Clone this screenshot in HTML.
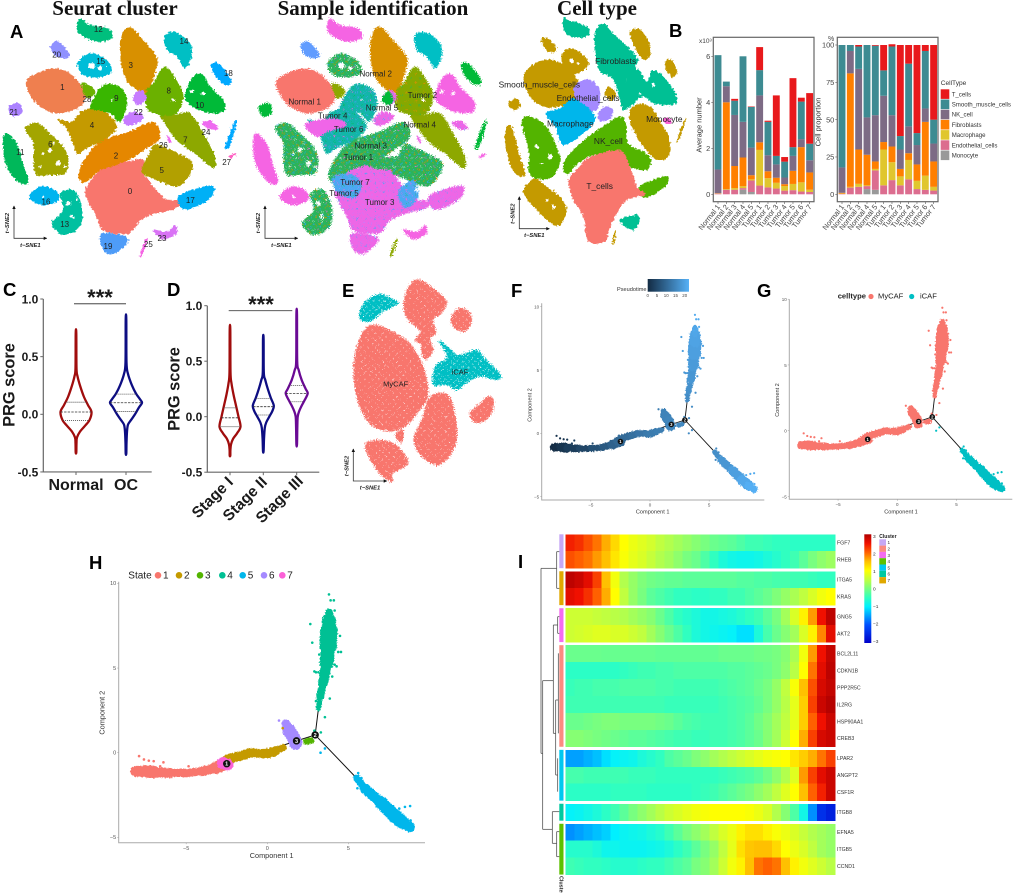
<!DOCTYPE html>
<html lang="en">
<head>
<meta charset="utf-8">
<title>Single-cell CAF analysis figure</title>
<style>
html,body{margin:0;padding:0;background:#fff}
svg{display:block;font-family:"Liberation Sans",sans-serif}
.title{font-family:"Liberation Serif",serif;font-weight:bold;font-size:21px;text-anchor:middle;fill:#111}
.letter{font-weight:bold;font-size:18.5px;fill:#000}
.bold{font-weight:bold;fill:#1a1a1a}
.axt{font-size:7.5px;fill:#333;text-anchor:middle}
.sne{font-size:5.8px;font-style:italic;font-weight:bold;fill:#222;text-anchor:middle}
</style>
</head>
<body>
<svg id="fig" width="1020" height="893" viewBox="0 0 1020 893" xmlns="http://www.w3.org/2000/svg">
<defs>
<filter id="rough" filterUnits="userSpaceOnUse" x="0" y="0" width="1020" height="893" color-interpolation-filters="sRGB">
<feTurbulence type="fractalNoise" baseFrequency="0.45" numOctaves="2" seed="4" result="n"/>
<feDisplacementMap in="SourceGraphic" in2="n" scale="4.5" xChannelSelector="R" yChannelSelector="G"/>
</filter>
<filter id="speckle" filterUnits="userSpaceOnUse" x="0" y="0" width="1020" height="893" color-interpolation-filters="sRGB">
<feTurbulence type="fractalNoise" baseFrequency="0.85" numOctaves="1" seed="11" result="n"/>
<feDisplacementMap in="SourceGraphic" in2="n" scale="7" xChannelSelector="R" yChannelSelector="G"/>
</filter>
<filter id="roughFine" filterUnits="userSpaceOnUse" x="0" y="0" width="1020" height="893" color-interpolation-filters="sRGB">
<feTurbulence type="fractalNoise" baseFrequency="0.6" numOctaves="2" seed="9" result="n"/>
<feDisplacementMap in="SourceGraphic" in2="n" scale="3" xChannelSelector="G" yChannelSelector="R"/>
</filter>
<pattern id="mixPink" patternUnits="userSpaceOnUse" width="9" height="9"><rect width="9" height="9" fill="#ee66e6"/><circle cx="1.5" cy="1.5" r=".7" fill="#9a8cff"/><circle cx="6" cy="3" r=".7" fill="#3fa8f8"/><circle cx="3" cy="6.5" r=".6" fill="#c77cff"/><circle cx="8" cy="7.5" r=".6" fill="#9a8cff"/></pattern>
<pattern id="mixGreen" patternUnits="userSpaceOnUse" width="9" height="9"><rect width="9" height="9" fill="#2ab45a"/><circle cx="1" cy="1" r=".8" fill="#d89000"/><circle cx="5" cy="1.8" r=".8" fill="#2aa7f0"/><circle cx="2.5" cy="4.5" r=".7" fill="#f564e3"/><circle cx="7.2" cy="5" r=".6" fill="#fff"/><circle cx="4.5" cy="7.5" r=".8" fill="#d89000"/><circle cx="8" cy="8" r=".7" fill="#2aa7f0"/></pattern>
<pattern id="mixTeal" patternUnits="userSpaceOnUse" width="9" height="9"><rect width="9" height="9" fill="#12b6a8"/><circle cx="1.2" cy="1.5" r=".7" fill="#f564e3"/><circle cx="5.2" cy="3" r=".8" fill="#4e9cff"/><circle cx="2" cy="6" r=".6" fill="#00ba38"/><circle cx="7" cy="7" r=".7" fill="#4e9cff"/></pattern>
<pattern id="mixBlue" patternUnits="userSpaceOnUse" width="9" height="9"><rect width="9" height="9" fill="#4aa9f2"/><circle cx="1.5" cy="1.5" r=".9" fill="#f564e3"/><circle cx="5.4" cy="4" r=".8" fill="#f564e3"/><circle cx="1.6" cy="6" r=".6" fill="#20b95a"/><circle cx="7.5" cy="7.5" r=".7" fill="#a58aff"/></pattern>
<pattern id="mixOlive" patternUnits="userSpaceOnUse" width="9" height="9"><rect width="9" height="9" fill="#86a800"/><circle cx="1.5" cy="2" r=".8" fill="#d89000"/><circle cx="6" cy="6" r=".8" fill="#2cb84a"/></pattern>
<pattern id="dotsCoral" patternUnits="userSpaceOnUse" width="7" height="7"><rect width="7" height="7" fill="#f8766d"/><circle cx="1" cy="1.2" r=".5" fill="#fff"/><circle cx="4.6" cy="4.5" r=".5" fill="#fff"/></pattern>
<pattern id="dotsTeal" patternUnits="userSpaceOnUse" width="6" height="6"><rect width="6" height="6" fill="#00bfc4"/><circle cx="1" cy="1.2" r=".6" fill="#fff"/><circle cx="4" cy="4" r=".6" fill="#fff"/></pattern>
<linearGradient id="ptGrad" x1="0" x2="1" y1="0" y2="0"><stop offset="0" stop-color="#132b43"/><stop offset="1" stop-color="#56b1f7"/></linearGradient>
<linearGradient id="heatGrad" x1="0" x2="0" y1="0" y2="1">
<stop offset="0" stop-color="#b00000"/><stop offset=".083" stop-color="#f01000"/><stop offset=".167" stop-color="#ff6000"/><stop offset=".25" stop-color="#ffc000"/><stop offset=".333" stop-color="#ffff00"/><stop offset=".417" stop-color="#c0ff40"/><stop offset=".5" stop-color="#78ff80"/><stop offset=".583" stop-color="#30ffc0"/><stop offset=".667" stop-color="#00f0ff"/><stop offset=".75" stop-color="#00a0ff"/><stop offset=".833" stop-color="#0050ff"/><stop offset="1" stop-color="#0000c8"/></linearGradient>
</defs>

<text class="title" x="115" y="15">Seurat cluster</text>
<text class="title" x="373" y="15">Sample identification</text>
<text class="title" x="597" y="15">Cell type</text>

<text class="letter" x="10" y="38">A</text>
<text class="letter" x="669" y="37">B</text>
<text class="letter" x="3" y="296">C</text>
<text class="letter" x="167" y="296">D</text>
<text class="letter" x="342" y="297">E</text>
<text class="letter" x="511" y="297">F</text>
<text class="letter" x="757" y="297">G</text>
<text class="letter" x="89" y="569">H</text>
<text class="letter" x="518" y="568">I</text>

<g id="panelA"></g>
<g id="panelS"></g>
<g id="panelT"></g>
<g id="panelB"></g>
<g id="panelC"></g>
<g id="panelD"></g>
<g id="panelE"></g>
<g id="panelF"></g>
<g id="panelG"></g>
<g id="panelH"></g>
<g id="panelI"></g>

<text class="bold" transform="translate(14.5,385) rotate(-90)" font-size="16.4" text-anchor="middle">PRG score</text>
<text class="bold" transform="translate(179.5,389) rotate(-90)" font-size="16.4" text-anchor="middle">PRG score</text>
<text class="bold" x="76" y="490" font-size="16" text-anchor="middle">Normal</text>
<text class="bold" x="126" y="490" font-size="16" text-anchor="middle">OC</text>
<text class="bold" transform="translate(234,483) rotate(-45)" font-size="15.5" text-anchor="end">Stage I</text>
<text class="bold" transform="translate(268,483) rotate(-45)" font-size="15.5" text-anchor="end">Stage II</text>
<text class="bold" transform="translate(304,482) rotate(-45)" font-size="15.5" text-anchor="end">Stage III</text>
<text class="bold" x="100" y="305" font-size="22" text-anchor="middle">***</text>
<text class="bold" x="261" y="312" font-size="22" text-anchor="middle">***</text>

<text class="axt" transform="translate(701.5,125) rotate(-90)">Average number</text>
<text class="axt" transform="translate(820.5,122) rotate(-90)">Cell proportion</text>
<text x="699" y="43" font-size="6.5" fill="#444">x10³</text>
<text x="828" y="41" font-size="7" fill="#444">%</text>
<text x="940.7" y="85" font-size="6.6" fill="#333">CellType</text>

<text x="617" y="291" font-size="5.6" fill="#333">Pseudotime</text>
<rect x="647.7" y="279" width="41.3" height="12.7" fill="url(#ptGrad)"/>
<text x="837.7" y="298.5" font-size="7.6" fill="#222" font-weight="bold">celltype</text>
<circle cx="871" cy="296.5" r="2.6" fill="#f8766d"/>
<text x="878" y="298.5" font-size="7.6" fill="#222">MyCAF</text>
<circle cx="911.7" cy="296.5" r="2.6" fill="#00bfc4"/>
<text x="920" y="298.5" font-size="7.6" fill="#222">iCAF</text>
<text x="128.3" y="578.5" font-size="10" fill="#222">State</text>

<script>
/* ---------- t-SNE cluster outlines, in t-SNE plot units ---------- */
const seuratColors = {0:'#f8766d',1:'#ef7f4f',2:'#e58700',3:'#d89000',4:'#c49a00',5:'#b2a000',6:'#a3a500',7:'#8da800',8:'#6bb100',9:'#39b600',10:'#00ba38',11:'#00b85a',12:'#00bf7d',13:'#00c0a0',14:'#00bfc4',15:'#00bdd8',16:'#00b4ef',17:'#00b0f6',18:'#00a9ff',19:'#4e9cf8',20:'#8f91ff',21:'#ab82ff',22:'#c77cff',23:'#d973f5',24:'#ee6bf0',25:'#f564e3',27:'#ff61c3',28:'#6bb100'};
const clusterShapes = [
[1,[[78,245],[110,220],[165,205],[215,225],[255,275],[245,315],[205,335],[165,340],[120,320],[90,285]]],
[0,[[255,570],[290,520],[330,492],[380,485],[430,478],[432,520],[470,570],[500,598],[550,605],[520,628],[470,640],[420,662],[400,690],[375,702],[310,692],[290,650],[265,605]]],
[2,[[235,530],[250,485],[300,425],[380,398],[460,366],[480,412],[440,445],[390,478],[340,498],[300,512],[255,548]]],
[3,[[368,100],[390,80],[420,110],[470,170],[465,220],[440,278],[400,262],[370,220],[360,150]]],
[4,[[172,358],[215,365],[245,335],[300,325],[350,375],[320,415],[260,445],[230,460],[215,420],[200,385]]],
[5,[[425,515],[445,465],[465,432],[500,445],[530,458],[578,490],[562,535],[530,560],[470,540]]],
[6,[[75,385],[110,368],[150,400],[190,440],[205,480],[195,520],[150,525],[110,525],[100,480],[100,430]]],
[7,[[480,345],[520,345],[570,340],[610,400],[645,470],[640,505],[590,465],[530,420]]],
[8,[[440,270],[460,250],[495,200],[535,250],[550,290],[530,340],[480,345],[440,325]]],
[9,[[270,320],[310,255],[365,265],[382,310],[360,365],[330,340],[290,330]]],
[10,[[555,295],[580,230],[610,225],[630,260],[670,300],[670,335],[610,335]]],
[11,[[15,400],[50,430],[65,480],[85,545],[60,550],[25,510],[10,460]]],
[12,[[230,85],[240,55],[270,75],[325,85],[335,115],[290,125],[250,110]]],
[13,[[155,670],[190,630],[180,580],[220,570],[245,620],[240,680],[190,705]]],
[14,[[495,105],[530,98],[570,130],[575,170],[555,205],[530,170],[500,150]]],
[15,[[232,190],[270,160],[320,180],[335,215],[300,232],[250,225]]],
[16,[[88,590],[120,560],[165,570],[175,600],[140,615],[110,610]]],
[17,[[535,590],[590,565],[640,558],[635,590],[590,620],[550,628]]],
[18,[[632,195],[655,190],[695,240],[680,255],[650,235]]],
[18,[[675,440],[700,370],[710,368],[688,440]]],
[19,[[305,700],[385,715],[345,760],[310,750]]],
[20,[[152,135],[175,125],[210,165],[185,175],[160,160]]],
[21,[[25,320],[60,310],[65,340],[40,350]]],
[22,[[400,285],[425,270],[440,295],[420,315],[405,310]]],
[22,[[370,360],[395,335],[430,345],[420,365],[385,378]]],
[23,[[458,688],[500,695],[525,675],[530,700],[490,718]]],
[24,[[605,370],[630,362],[655,385],[630,388]]],
[24,[[500,410],[505,408],[514,426],[508,428]]],
[25,[[420,765],[436,720],[442,722],[426,767]]],
[27,[[688,468],[705,460],[707,466],[690,474]]],
[28,[[245,250],[275,260],[285,280],[260,295]]]
];
const clusterHoles = [[150,450,7],[175,490,8],[130,460,4],[195,500,4],[120,500,3],[275,197,10],[300,205,6],[205,610,7],[215,650,6],[575,275,6],[610,280,6],[335,300,3],[520,300,5],[540,210,3],[525,575,8],[500,570,6],[130,590,4],[160,430,3],[230,600,3],[320,200,3]];
const clusterLabels = [['0',390,575],['1',187,262],['2',348,468],['3',392,197],['4',276,376],['5',485,512],['6',151,433],['7',556,420],['8',506,273],['9',349,295],['10',599,317],['11',61,458],['12',295,88],['13',194,674],['14',552,125],['15',302,184],['16',138,606],['17',571,602],['18',685,220],['19',324,740],['20',170,165],['21',41,338],['22',415,337],['23',486,716],['24',618,397],['25',445,733],['26',490,437],['27',680,487],['28',261,298]];
const sampleFill = {0:'url(#mixPink)',1:'#f8766d',2:'url(#mixGreen)',3:'#d89000',4:'url(#mixTeal)',5:'url(#mixGreen)',6:'url(#mixGreen)',7:'#8da800',8:'url(#mixOlive)',9:'url(#mixTeal)',10:'#f564e3',11:'#f564e3',12:'#f564e3',13:'url(#mixGreen)',14:'#00bfc4',15:'url(#mixGreen)',16:'#f564e3',17:'url(#mixPink)',18:'#00ba38',19:'url(#mixPink)',20:'#619cff',21:'#00ba38',22:'url(#mixPink)',23:'#f564e3',24:'url(#mixPink)',25:'#8da800',27:'#f564e3',28:'#8da800'};
const sampleExtra = [['#f065e8',[[915,372],[1000,355],[1040,375],[985,395],[950,410]]],['url(#mixBlue)',[[1000,530],[1060,525],[1085,560],[1060,595],[1010,575]]],['url(#mixBlue)',[[1195,575],[1240,540],[1255,590],[1215,625]]],['url(#mixGreen)',[[1100,480],[1180,470],[1290,465],[1290,510],[1200,510],[1120,505]]],['#00ba38',[[1145,300],[1165,272],[1180,300],[1165,315]]]];
const sampleLabels = [['Normal 1',914,306],['Normal 2',1127,222],['Normal 3',1112,438],['Normal 4',1259,375],['Normal 5',1146,324],['Tumor 1',1075,472],['Tumor 2',1267,287],['Tumor 3',1139,607],['Tumor 4',998,348],['Tumor 5',1032,581],['Tumor 6',1046,389],['Tumor 7',1065,547]];

const cellTypeColors = {SMC:'#c49a00',Fibro:'#00c094',Endo:'#a58aff',Macro:'#00b6eb',NK:'#53b400',T:'#f8766d',Mono:'#fb61d7'};
const cellShapes = [
['Fibro',[[250,50],[265,60],[300,70],[330,90],[320,110],[270,110],[250,85]]],
['Fibro',[[345,100],[370,70],[400,100],[470,170],[465,200],[440,240],[445,280],[430,330],[400,240],[360,215],[348,170]]],
['Fibro',[[430,320],[450,200],[480,215],[500,245],[520,210],[560,240],[590,290],[580,315],[520,310],[490,290],[450,320]]],
['Fibro',[[420,658],[470,645],[478,665],[460,690],[435,680]]],
['SMC',[[185,115],[205,115],[230,145],[215,158],[190,140]]],
['SMC',[[245,165],[270,145],[310,165],[325,195],[295,220],[255,215]]],
['SMC',[[450,100],[480,88],[510,135],[505,175],[480,170]]],
['SMC',[[555,185],[575,180],[592,215],[580,232],[560,215]]],
['SMC',[[130,230],[165,190],[220,180],[275,215],[300,260],[285,300],[240,320],[190,320],[150,290]]],
['SMC',[[85,310],[110,295],[120,320],[100,330]]],
['SMC',[[447,345],[465,315],[510,320],[550,380],[570,420],[565,470],[530,480],[490,440],[460,390]]],
['SMC',[[75,395],[95,380],[120,470],[135,525],[105,520],[80,460]]],
['SMC',[[375,285],[385,260],[408,280],[395,300]]],
['SMC',[[135,560],[165,535],[200,560],[240,590],[260,630],[240,675],[215,670],[180,640],[135,590]]],
['SMC',[[590,420],[612,360],[618,362],[596,422]]],
['SMC',[[397,730],[403,695],[408,696],[402,732]]],
['Endo',[[280,265],[320,238],[355,260],[360,310],[340,335],[300,320]]],
['Endo',[[355,340],[380,318],[400,335],[385,360],[360,362]]],
['Macro',[[198,340],[240,325],[280,295],[340,340],[340,370],[310,400],[250,435],[225,380]]],
['NK',[[250,490],[285,445],[340,400],[420,350],[440,380],[445,430],[510,470],[500,510],[450,500],[420,470],[340,465],[290,495],[260,525]]],
['NK',[[125,365],[150,350],[195,375],[230,440],[240,490],[210,535],[150,525],[145,450]]],
['NK',[[480,560],[530,535],[565,530],[555,560],[510,590],[485,590]]],
['T',[[265,540],[300,500],[330,470],[420,452],[450,500],[470,560],[495,585],[440,600],[405,650],[385,700],[375,725],[325,725],[310,650],[280,600]]],
['Mono',[[550,355],[575,358],[570,372],[552,368]]]
];
const cellHoles = [[170,440,6],[210,470,7],[185,490,4],[275,183,7],[295,190,4],[200,600,5],[220,620,6],[520,255,5],[480,280,4]];
const cellLabels = [['Fibroblasts',407,184],['Smooth_muscle_cells',178,255],['Endothelial_cells',324,295],['Macrophage',271,372],['Monocyte',553,358],['NK_cell',385,424],['T_cells',359,560]];

/* ---------- Panel B: stacked bars ---------- */
const barSamples = ['Normal 1','Normal 2','Normal 3','Normal 4','Normal 5','Tumor 1','Tumor 2','Tumor 3','Tumor 4','Tumor 5','Tumor 6','Tumor 7'];
const cellTypeNames = ['T_cells','Smooth_muscle_cells','NK_cell','Fibroblasts','Macrophage','Endothelial_cells','Monocyte'];
const cellTypeFill = ['#e8191c','#3d8b92','#7d6b85','#ff7f00','#e0c62e','#dc6d8f','#999999'];
const countT = [0,0,.08,0,.02,1.0,.05,2.63,.2,3.0,.17,2.2];
const countSmc = [4.97,.2,.62,2.85,1.77,1.1,1.45,.37,.69,.38,1.63,.72];
const countNk = [1.03,.7,2.22,1.55,1.2,2.04,.7,.58,.29,.65,.35,.53];
const countFibro = [.01,3.77,.96,1.25,.18,.33,.3,.22,.08,.57,1.53,.75];
const countMacro = [.01,.03,.07,.08,.05,1.55,.4,.25,.2,.27,.4,.1];
const countEndo = [.03,.2,.2,.07,.5,.38,.3,.25,.16,.18,.12,.1];
const countMono = [0,0,0,.2,.1,0,0,0,0,0,0,0];
const pctT = [0,0,1,0,.5,17,1.5,61,12.5,59,4,50];
const pctSmc = [82,4,15,48.5,46.5,17,46,9,42,8,38.5,16];
const pctNk = [17,15,54,25,31,31,21,13,18,13,9,12];
const pctFibro = [.5,76,23,20.5,5,5,10.5,5,4.5,11,36,17];
const pctMacro = [.2,.5,2,.5,1,24,12,6,13,5.5,9.5,2.5];
const pctEndo = [.3,4.5,5,2,13,6,9.5,6,10,3.5,3,2.5];
const pctMono = [0,0,0,3.5,3,0,0,0,0,0,0,0];
const countTicks = [0,2,4,6];
const pctTicks = [0,25,50,75,100];

/* ---------- Panels C, D: violins as [score, half-width] ---------- */
const violinNormal = [[.70,.3],[.40,.5],[.33,1.5],[.25,4],[.15,8],[.08,12],[.02,15.5],[-.05,13.5],[-.1,9],[-.15,4],[-.2,1],[-.25,.5],[-.33,.3]];
const violinOC = [[.82,.3],[.45,.5],[.35,2],[.25,6],[.18,10],[.13,14],[.10,16],[.06,13],[0,9],[-.05,5],[-.09,2],[-.15,1],[-.25,.5],[-.34,.3]];
const violinStage1 = [[.78,.3],[.4,.5],[.3,1.5],[.2,3.5],[.1,6],[0,8.5],[-.09,10.5],[-.15,7],[-.2,3],[-.25,1],[-.3,.4],[-.35,.3]];
const violinStage2 = [[.70,.3],[.4,.5],[.33,2],[.25,4.5],[.17,7.5],[.1,10.5],[.05,9],[0,6],[-.05,3],[-.1,1.5],[-.2,.7],[-.31,.3]];
const violinStage3 = [[.92,.3],[.5,.5],[.42,2],[.33,5],[.25,9],[.21,11],[.15,8],[.1,5],[.05,2.5],[0,1],[-.1,.6],[-.25,.3]];
const quartNormal = [-.055,.02,.105];
const quartOC = [.025,.10,.175];
const quartStage1 = [-.09,-.01,.08];
const quartStage2 = [.015,.09,.165];
const quartStage3 = [.135,.21,.28];
const violinTicks = [-.5,0,.5,1];

/* ---------- Panel E ---------- */
const cafBlobs = [
['url(#dotsCoral)',[[1210,110],[1225,50],[1255,28],[1300,55],[1340,95],[1325,130],[1300,150],[1310,190],[1290,205],[1300,240],[1280,268],[1265,255],[1262,225],[1245,210],[1260,185],[1225,150]]],
['url(#dotsCoral)',[[1352,150],[1370,118],[1400,118],[1417,150],[1395,185],[1365,175]]],
['url(#dotsCoral)',[[1060,300],[1075,215],[1110,165],[1170,180],[1230,220],[1270,290],[1285,370],[1260,420],[1200,480],[1120,470],[1075,400]]],
['url(#dotsCoral)',[[1240,510],[1265,450],[1290,380],[1345,375],[1370,460],[1365,530],[1320,585],[1270,565]]],
['url(#dotsCoral)',[[1408,430],[1440,400],[1465,378],[1482,395],[1470,440],[1430,460]]],
['url(#dotsCoral)',[[1095,525],[1150,510],[1195,530],[1225,580],[1180,610],[1175,637],[1130,600]]],
['url(#dotsCoral)',[[1185,495],[1210,480],[1205,520]]],
['url(#dotsTeal)',[[1078,145],[1090,100],[1135,72],[1175,85],[1195,100],[1150,125],[1110,155]]],
['url(#dotsTeal)',[[1300,345],[1305,290],[1340,260],[1315,212],[1350,235],[1375,255],[1430,240],[1455,265],[1500,310],[1495,330],[1440,320],[1400,340],[1370,360],[1340,345]]]
];

/* ---------- Panels F, G, H: trajectory, [component1, component2, half-spread, pseudotime] ---------- */
const state1 = [[-8.1,-1.1,.2,0],[-7.5,-1.1,.35,1],[-7,-1.15,.3,2],[-6,-1.2,.2,3.5],[-5,-1.2,.18,5],[-4,-1.1,.2,6.5],[-3.2,-.9,.28,8],[-2.75,-.72,.35,9]];
const state2 = [[-2.5,-.4,.25,9.6],[-1.5,-.15,.22,10.5],[-1,0,.25,11],[-.3,-.05,.18,12],[0,-.05,.28,12.3],[.5,.1,.2,12.7],[1,.3,.12,13.2]];
const state3 = [[2.4,.65,.18,14.6],[2.7,.72,.1,14.8]];
const state4 = [[3.15,2.6,.06,15],[3.25,3.3,.15,15.5],[3.45,4.2,.22,16.5],[3.65,5.3,.3,17],[3.75,6.3,.45,18],[3.8,7.2,.5,18.5],[3.8,7.8,.25,19],[3.8,8.3,.1,19.5]];
const state5 = [[5.5,-1.5,.1,15],[6,-2.1,.22,16],[7,-2.95,.3,17.5],[7.8,-3.7,.38,19],[8.3,-4.1,.35,20],[8.8,-4.4,.15,21]];
const state6 = [[1.15,1.7,.12,13.5],[1.3,1.35,.3,13.7],[1.6,.95,.38,13.9],[1.75,.55,.3,14.2]];
const state7 = [[-2.75,-.6,.3,9.2],[-2.45,-.7,.3,9.5]];
const stateSeries = [state1,state2,state3,state4,state5,state6,state7];
const stateColors = ['#f8766d','#c49a00','#53b400','#00c094','#00b6eb','#a58aff','#fb61d7'];
const stateCellType = ['MyCAF','MyCAF','MyCAF','MyCAF','iCAF','MyCAF','MyCAF'];
const outliers = [[4,2.65,7.6,18],[4,2.77,6.5,18],[4,3.8,9.35,20],[4,3.9,9,20],[4,4.1,9,20],[4,4.15,8.4,20],[4,4,8.2,20],[4,3.7,8.1,20],[4,4.54,5.95,18],[4,4.37,5.95,18],[4,4.48,6.9,18],[4,2.9,4.8,17],[4,3,4.75,17],[4,3.15,4.75,17],[4,3.2,5.8,18],[4,3.35,5.2,18],[4,4.15,5.2,18],[4,4.27,5.1,18],[4,3.85,3.2,16],[4,3,3.05,16],[4,3.55,2.1,15],[4,3.25,2.8,15],[4,3.3,1.2,15],[4,2.9,1.3,15],[4,4,4.5,17],
[5,3.28,0,15],[5,3.55,.25,15],[5,8.8,-3.15,20],[5,8.13,-3.3,20],[5,8.48,-3.2,20],[5,8.83,-4,21],[5,8.85,-4.6,21],[5,5.6,-1.2,15],[5,5.8,-1.5,15],[5,5.55,-2.1,15],
[1,-8.3,-.95,0],[1,-7.9,-.2,1],[1,-7.6,-.4,1],[1,-7.3,-.47,1],[1,-7,-.5,2],[1,-6.4,-.57,3],[1,-6.6,-.8,3],[1,-4.85,-.8,5],
[6,.72,1.9,13],[2,.95,1.45,13]];
const backboneA = [[-2.5,-.65],[1.8,.7],[2.95,1.05]];
const backboneB = [[2.95,1.05],[3.15,2.6]];
const backboneC = [[2.95,1.05],[5.5,-1.5]];
const branchNodes = [['1',-2.5,-.65],['3',1.8,.7],['2',2.95,1.05]];
const compXTicks = [-5,0,5];
const compYTicks = [-5,0,5,10];
const pseudoTicks = [0,5,10,15,20];

/* ---------- Panel I: heatmap (z-scored expression across pseudotime columns) ---------- */
const geneNames = ['FGF7','RHEB','ITGA5','KRAS','GNG5','AKT2','BCL2L11','CDKN1B','PPP2R5C','IL2RG','HSP90AA1','CREB3','LPAR2','ANGPT2','CSF1R','ITGB8','EFNA5','ITGB5','CCND1'];
const rowFGF7 = [2.4,2.3,2.1,1.9,1.6,1.3,1,.85,.75,.65,.5,.4,.3,.2,.1,0,-.1,-.15,-.2,-.3,-.4,-.4,-.45,-.5,-.5,-.55,-.55,-.55,-.55,-.55];
const rowRHEB = [2.1,2,1.9,1.7,1.5,1.2,.95,.8,.7,.55,.4,.3,.15,0,-.1,-.3,-.5,-.7,-.8,-.85,-.85,-.8,-.7,-.6,-.5,-.4,-.2,0,.15,.25];
const rowITGA5 = [2.9,2.8,2.6,2.2,1.5,.9,.4,.2,.05,-.05,-.1,-.15,-.15,-.2,-.2,-.2,-.2,-.2,-.2,-.25,-.25,-.3,-.3,-.35,-.35,-.4,-.4,-.45,-.5,-.5];
const rowKRAS = [2.6,2.5,2.3,2,1.6,1,.5,.2,0,-.2,-.3,-.4,-.5,-.5,-.55,-.55,-.5,-.5,-.4,-.4,-.3,-.2,-.1,.05,.2,.35,.5,.7,.9,1];
const rowGNG5 = [.6,.6,.6,.55,.5,.45,.4,.3,.2,.1,-.1,-.3,-.5,-.6,-.7,-.8,-.8,-.75,-.7,-.6,-.5,-.4,-.2,0,.3,.7,1.1,1.7,2.5,2.9];
const rowAKT2 = [.6,.65,.7,.75,.75,.7,.7,.6,.5,.3,.1,-.1,-.3,-.5,-.7,-.8,-.85,-.9,-.95,-1.1,-1.1,-.7,-.35,-.1,.1,.3,.7,1.1,1.8,2.6];
const rowBCL2L11 = [-.1,-.1,-.1,-.1,-.12,-.12,-.12,-.12,-.12,-.12,-.15,-.15,-.15,-.15,-.15,-.15,-.15,-.1,-.1,-.1,-.1,-.05,-.05,0,.1,.35,.9,1.7,2.5,2.85];
const rowCDKN1B = [-.55,-.55,-.55,-.55,-.55,-.55,-.5,-.45,-.4,-.4,-.35,-.35,-.3,-.3,-.3,-.3,-.3,-.3,-.25,-.25,-.2,-.15,-.1,0,.15,.45,1,1.9,2.6,2.9];
const rowPPP2R5C = [-.45,-.4,-.4,-.35,-.35,-.35,-.3,-.3,-.3,-.3,-.35,-.35,-.4,-.4,-.4,-.4,-.4,-.35,-.3,-.25,-.2,-.1,0,.2,.5,.95,1.5,2.1,2.7,2.85];
const rowIL2RG = [-.4,-.4,-.4,-.4,-.4,-.4,-.4,-.4,-.4,-.4,-.4,-.45,-.45,-.45,-.45,-.45,-.45,-.4,-.35,-.3,-.25,-.15,0,.2,.45,.8,1.4,2.2,2.8,2.95];
const rowHSP90AA1 = [-.1,-.1,-.05,0,.05,.05,0,0,0,0,-.05,-.1,-.2,-.3,-.35,-.4,-.4,-.4,-.35,-.3,-.2,-.05,.1,.3,.5,.8,1.4,2,2.5,2.8];
const rowCREB3 = [.1,.1,.05,0,-.05,-.1,-.15,-.2,-.2,-.25,-.3,-.35,-.4,-.4,-.45,-.45,-.4,-.4,-.35,-.3,-.2,-.1,.1,.3,.6,1,1.6,2.2,2.7,2.8];
const rowLPAR2 = [-1.5,-1.5,-1.4,-1.3,-1.1,-.95,-.9,-.85,-.7,-.6,-.5,-.3,-.2,-.1,.05,.15,.3,.4,.5,.6,.7,.8,.9,.95,1,1.2,1.4,1.6,1.9,2.2];
const rowANGPT2 = [-.35,-.35,-.4,-.4,-.4,-.4,-.4,-.45,-.45,-.45,-.5,-.5,-.5,-.5,-.5,-.5,-.5,-.45,-.4,-.35,-.3,-.2,-.05,.15,.4,.75,1.7,2.2,2.6,2.8];
const rowCSF1R = [-.55,-.55,-.55,-.55,-.55,-.5,-.5,-.5,-.5,-.55,-.55,-.55,-.55,-.55,-.5,-.45,-.4,-.3,-.2,-.1,0,.15,.3,.5,.75,1,1.5,2,2.4,2.8];
const rowITGB8 = [-.95,-.9,-.8,-.7,-.55,-.4,-.2,0,.15,.3,.45,.6,.7,.8,.9,.95,1,1,1,1,.95,.85,.7,.4,.1,-.3,-.8,-1.6,-2.4,-2.6];
const rowEFNA5 = [-1.6,-1.5,-1.4,-1.3,-1.2,-1,-.9,-.85,-.8,-.7,-.6,-.4,-.2,0,.15,.3,.5,.7,.85,1.1,1.25,1.25,1.1,.95,.85,.7,.55,.4,.3,.2];
const rowITGB5 = [-.6,-.6,-.6,-.7,-.85,-.85,-.9,-.9,-.9,-.85,-.8,-.7,-.55,-.4,-.2,0,.2,.5,.8,1.25,1.45,1.5,1.5,1.3,1,.85,.7,.5,.3,.2];
const rowCCND1 = [-.4,-.45,-.5,-.5,-.55,-.6,-.6,-.6,-.55,-.5,-.5,-.4,-.3,-.2,0,.1,.3,.6,.9,1.1,1.5,1.9,2,1.9,1.5,1.1,.9,.75,.6,.45];
const heatRows = [rowFGF7,rowRHEB,rowITGA5,rowKRAS,rowGNG5,rowAKT2,rowBCL2L11,rowCDKN1B,rowPPP2R5C,rowIL2RG,rowHSP90AA1,rowCREB3,rowLPAR2,rowANGPT2,rowCSF1R,rowITGB8,rowEFNA5,rowITGB5,rowCCND1];
const rowGroupSizes = [2,2,2,6,3,1,3];
const groupCluster = ['1','7','3','2','5','6','4'];
const clusterColors = {'1':'#c6a8f5','2':'#fb8b80','3':'#f46cf0','4':'#5cc000','5':'#00c8f0','6':'#00c9a0','7':'#e0a800'};
const colorTicks = [3,2,1,0,-1,-2,-3];
const dendroLines = [[33,145,33,700],[33,145,80,145],[80,95,80,205],[80,95,88,95],[80,205,88,205],[33,700,38,700],[38,482,38,928],[38,482,70,482],[70,315,70,640],[70,315,83,315],[83,290,83,340],[83,290,88,290],[83,340,88,340],[70,640,77,640],[77,540,77,765],[77,540,85,540],[85,400,85,640],[77,765,83,765],[83,715,83,815],[38,928,67,928],[67,875,67,970],[67,875,88,875],[67,970,80,970],[80,935,80,1010],[80,935,88,935],[80,1010,88,1010]];

/* ---------- helpers ---------- */
const NS = 'http://www.w3.org/2000/svg';
function mk(parent, tag, attrs, name, text) {
  const el = document.createElementNS(NS, tag);
  for (const k in attrs) el.setAttribute(k, attrs[k]);
  
  
  if (text !== undefined) el.textContent = text;
  parent.appendChild(el);
  return el;
}
function group(parent, name, attrs) { return mk(parent, 'g', attrs || {}, name); }
const pts = (arr, fx, fy) => arr.map(p => fx(p[0]) + ',' + fy(p[1])).join(' ');
function smooth(arr) {
  const n = arr.length;
  let d = 'M' + arr[0][0].toFixed(2) + ' ' + arr[0][1].toFixed(2);
  for (let i = 0; i < n; i++) {
    const p0 = arr[(i - 1 + n) % n], p1 = arr[i], p2 = arr[(i + 1) % n], p3 = arr[(i + 2) % n];
    d += 'C' + (p1[0] + (p2[0] - p0[0]) / 6).toFixed(2) + ' ' + (p1[1] + (p2[1] - p0[1]) / 6).toFixed(2) + ' ' +
         (p2[0] - (p3[0] - p1[0]) / 6).toFixed(2) + ' ' + (p2[1] - (p3[1] - p1[1]) / 6).toFixed(2) + ' ' +
         p2[0].toFixed(2) + ' ' + p2[1].toFixed(2);
  }
  return d + 'Z';
}
const blobPath = (arr, fx, fy) => smooth(arr.map(p => [fx(p[0]), fy(p[1])]));
function arrowAxes(g, ox, oy, tx, ry) {
  mk(g, 'path', {d:`M${ox} ${ry}V${oy}H${tx}`, fill:'none', stroke:'#333', 'stroke-width':.8}, 'tsne-axis-lines');
  mk(g, 'path', {d:`M${ox-1.7} ${ry+3}L${ox} ${ry-.5}L${ox+1.7} ${ry+3}Z`, fill:'#111'}, 'tsne-y-arrow');
  mk(g, 'path', {d:`M${tx-3} ${oy-1.7}L${tx+.5} ${oy}L${tx-3} ${oy+1.7}Z`, fill:'#111'}, 'tsne-x-arrow');
  mk(g, 'text', {class:'sne', transform:`translate(${ox-5},${(oy+ry)/2+1}) rotate(-90)`}, 'tsne-y-axis-title', 't−SNE2');
  mk(g, 'text', {class:'sne', x:(ox+tx)/2, y:oy+8.5}, 'tsne-x-axis-title', 't−SNE1');
}

/* ---------- Panel A ---------- */
(function () {
  const g = document.getElementById('panelA');
  const sx = v => v / 3, sy = v => v / 3;
  const blobs = group(g, 'cluster-blobs', {filter:'url(#rough)'});
  clusterShapes.forEach(c => mk(blobs, 'path', {d:blobPath(c[1], sx, sy), fill:seuratColors[c[0]]}, 'cluster-' + c[0] + '-cells'));
  clusterHoles.forEach(h => mk(blobs, 'circle', {cx:sx(h[0]), cy:sy(h[1]), r:h[2] / 3, fill:'#fff'}, 'cluster-gap'));
  clusterLabels.forEach(l => mk(g, 'text', {x:sx(l[1]), y:sy(l[2]) + 2.5, 'font-size':8, fill:'#222', 'text-anchor':'middle'}, 'cluster-label-' + l[0], l[0]));
  arrowAxes(g, 14, 238.3, 46.7, 206);
})();

/* ---------- Sample panel ---------- */
(function () {
  const g = document.getElementById('panelS');
  const sx = v => v / 3 + 250, sy = v => v / 3;
  const ax = v => v / 3, ay = v => v / 3;
  const blobs = group(g, 'sample-blobs', {filter:'url(#speckle)'});
  clusterShapes.forEach(c => mk(blobs, 'path', {d:blobPath(c[1], sx, sy), fill:sampleFill[c[0]]}, 'sample-cluster-' + c[0] + '-cells'));
  sampleExtra.forEach(c => mk(blobs, 'path', {d:blobPath(c[1], ax, ay), fill:c[0]}, 'sample-overlay-cells'));
  clusterHoles.forEach(h => mk(blobs, 'circle', {cx:sx(h[0]), cy:sy(h[1]), r:h[2] / 3, fill:'#fff'}, 'sample-gap'));
  sampleLabels.forEach(l => mk(g, 'text', {x:ax(l[1]), y:ay(l[2]) + 2.5, 'font-size':8, fill:'#222', 'text-anchor':'middle'}, 'sample-label-' + l[0].toLowerCase().replace(' ', '-'), l[0]));
  arrowAxes(g, 265, 238.3, 297.7, 206);
})();

/* ---------- Cell type panel ---------- */
(function () {
  const g = document.getElementById('panelT');
  const sx = v => v / 3 + 480, sy = v => v / 3;
  const blobs = group(g, 'cell-type-blobs', {filter:'url(#rough)'});
  cellShapes.forEach(c => mk(blobs, 'path', {d:blobPath(c[1], sx, sy), fill:cellTypeColors[c[0]]}, 'cell-type-' + c[0].toLowerCase() + '-cells'));
  cellHoles.forEach(h => mk(blobs, 'circle', {cx:sx(h[0]), cy:sy(h[1]), r:h[2] / 3, fill:'#fff'}, 'cell-type-gap'));
  cellLabels.forEach(l => mk(g, 'text', {x:sx(l[1]), y:sy(l[2]) + 2.5, 'font-size':8.4, fill:'#222', 'text-anchor':'middle'}, 'cell-type-label-' + l[0].toLowerCase(), l[0]));
  arrowAxes(g, 519.3, 228.7, 549.3, 196.7);
})();

/* ---------- Panel B ---------- */
(function () {
  const g = document.getElementById('panelB');
  function stack(name, fx0, fy, series, ticks, fmt) {
    const p = group(g, name);
    const step = 8.33, bw = 6.9;
    const xc = i => fx0 + 4.7 + i * step;
    const segs = group(p, name + '-segments');
    barSamples.forEach((s, i) => {
      let acc = 0;
      for (let k = series.length - 1; k >= 0; k--) {
        const v = series[k][i];
        if (v > 0) mk(segs, 'rect', {x:xc(i) - bw / 2, y:fy(acc + v), width:bw, height:fy(acc) - fy(acc + v), fill:cellTypeFill[k]}, 'bar-' + s.toLowerCase().replace(' ', '-') + '-' + cellTypeNames[k].toLowerCase());
        acc += v;
      }
      mk(p, 'line', {x1:xc(i), x2:xc(i), y1:201.7, y2:204, stroke:'#555', 'stroke-width':.6}, 'x-tick');
      mk(p, 'text', {transform:`translate(${xc(i) + 2.5},${207}) rotate(-52)`, 'font-size':7.4, fill:'#444', 'text-anchor':'end'}, 'x-tick-label-' + s.toLowerCase().replace(' ', '-'), s);
    });
    ticks.forEach(t => {
      mk(p, 'line', {x1:fx0 - 2, x2:fx0, y1:fy(t), y2:fy(t), stroke:'#555', 'stroke-width':.6}, 'y-tick');
      mk(p, 'text', {x:fx0 - 3, y:fy(t) + 2.6, 'font-size':7.4, fill:'#444', 'text-anchor':'end'}, 'y-tick-label', fmt(t));
    });
    mk(p, 'rect', {x:fx0, y:37.3, width:100.7, height:164.4, fill:'none', stroke:'#666', 'stroke-width':1.2}, 'plot-frame');
  }
  stack('bars-average-number', 713.3, v => 194.3 - v * 23, [countT, countSmc, countNk, countFibro, countMacro, countEndo, countMono], countTicks, t => String(t));
  stack('bars-cell-proportion', 837.3, v => 194.3 - v * 1.493, [pctT, pctSmc, pctNk, pctFibro, pctMacro, pctEndo, pctMono], pctTicks, t => String(t));
  const lg = group(g, 'cell-type-legend');
  cellTypeNames.forEach((n, i) => {
    mk(lg, 'rect', {x:940.7, y:89.3 + i * 10.2, width:8.6, height:9.6, fill:cellTypeFill[i]}, 'legend-swatch-' + n.toLowerCase());
    mk(lg, 'text', {x:951.7, y:96.3 + i * 10.2, 'font-size':6.1, fill:'#333'}, 'legend-label-' + n.toLowerCase(), n);
  });
})();

/* ---------- Panels C, D ---------- */
function drawViolinPanel(id, axisX, axisRight, y, ticks, violins) {
  const g = document.getElementById(id);
  const bottom = y(-.5);
  mk(g, 'path', {d:`M${axisX} ${y(1)}V${bottom}H${axisRight}`, fill:'none', stroke:'#666', 'stroke-width':1.2}, 'violin-axis-lines');
  ticks.forEach(t => {
    mk(g, 'line', {x1:axisX - 3, x2:axisX, y1:y(t), y2:y(t), stroke:'#666', 'stroke-width':1}, 'y-tick');
    mk(g, 'text', {x:axisX - 5, y:y(t) + 4.4, 'font-size':12, 'font-weight':'bold', fill:'#1a1a1a', 'text-anchor':'end'}, 'y-tick-label', t.toFixed(1));
  });
  violins.forEach(v => {
    const vg = group(g, 'violin-' + v.name);
    mk(vg, 'line', {x1:v.x, x2:v.x, y1:bottom, y2:bottom + 3, stroke:'#666', 'stroke-width':1}, 'x-tick');
    const right = v.profile.map(p => [v.x + p[1], y(p[0])]);
    const left = v.profile.slice().reverse().map(p => [v.x - p[1], y(p[0])]);
    mk(vg, 'path', {d:smooth(right.concat(left)), fill:'#fff', stroke:v.color, 'stroke-width':2.3, 'stroke-linejoin':'round'}, 'violin-outline');
    v.quart.forEach((q, i) => {
      let hw = 0;
      for (let k = 0; k < v.profile.length - 1; k++) {
        const a = v.profile[k], b = v.profile[k + 1];
        if (q <= a[0] && q >= b[0]) hw = a[1] + (b[1] - a[1]) * (a[0] - q) / (a[0] - b[0]);
      }
      mk(vg, 'line', {x1:v.x - hw, x2:v.x + hw, y1:y(q), y2:y(q), stroke:'#333', 'stroke-width':.8, 'stroke-dasharray':i === 1 ? '2.4 1.2' : '1 1'}, i === 1 ? 'violin-median' : 'violin-quartile');
    });
  });
}
drawViolinPanel('panelC', 43.3, 151.7, v => 414.3 - v * 115.3, violinTicks, [
  {name:'normal', x:76, profile:violinNormal, quart:quartNormal, color:'#a00d0d'},
  {name:'oc', x:126, profile:violinOC, quart:quartOC, color:'#0d0d82'}
]);
drawViolinPanel('panelD', 207.3, 319.3, v => 416.7 - v * 111, violinTicks, [
  {name:'stage-1', x:230, profile:violinStage1, quart:quartStage1, color:'#a00d0d'},
  {name:'stage-2', x:263.3, profile:violinStage2, quart:quartStage2, color:'#0d0d82'},
  {name:'stage-3', x:296.7, profile:violinStage3, quart:quartStage3, color:'#6a0a94'}
]);
mk(document.getElementById('panelC'), 'line', {x1:74, x2:126, y1:303.7, y2:303.7, stroke:'#777', 'stroke-width':1.4}, 'significance-bar');
mk(document.getElementById('panelD'), 'line', {x1:228.7, x2:292.3, y1:310.7, y2:310.7, stroke:'#444', 'stroke-width':.9}, 'significance-bar');

/* ---------- Panel E ---------- */
(function () {
  const g = document.getElementById('panelE');
  const sx = v => v / 3, sy = v => v / 3 + 270;
  const blobs = group(g, 'caf-blobs', {filter:'url(#speckle)'});
  cafBlobs.forEach(b => mk(blobs, 'path', {d:blobPath(b[1], sx, sy), fill:b[0]}, b[0].includes('Teal') ? 'icaf-cells' : 'mycaf-cells'));
  mk(g, 'text', {x:sx(1187), y:sy(342) + 2.5, 'font-size':7.5, fill:'#222', 'text-anchor':'middle'}, 'mycaf-label', 'MyCAF');
  mk(g, 'text', {x:sx(1380), y:sy(306) + 2.5, 'font-size':7.5, fill:'#222', 'text-anchor':'middle'}, 'icaf-label', 'iCAF');
  arrowAxes(g, 353.3, 481, 386.7, 449);
})();

/* ---------- Trajectories ---------- */
function pseudoColor(t) {
  const f = Math.min(1, Math.max(0, t / 21));
  const a = [0x13, 0x2b, 0x43], b = [0x56, 0xb1, 0xf7];
  return 'rgb(' + a.map((c, i) => Math.round(c + (b[i] - c) * f)).join(',') + ')';
}
function drawTrajectory(id, cfg) {
  const g = document.getElementById(id);
  const x = cfg.x, y = cfg.y;
  const ptR = cfg.ptR;
  mk(g, 'path', {d:`M${cfg.left} ${cfg.top}V${cfg.bottom}H${cfg.right}`, fill:'none', stroke:'#aaa', 'stroke-width':1}, 'axis-lines');
  compXTicks.forEach(t => {
    mk(g, 'line', {x1:x(t), x2:x(t), y1:cfg.bottom, y2:cfg.bottom + 1.5, stroke:'#999', 'stroke-width':.5}, 'x-tick');
    mk(g, 'text', {x:x(t), y:cfg.bottom + cfg.tickFs + 2, 'font-size':cfg.tickFs, fill:'#555', 'text-anchor':'middle'}, 'x-tick-label', String(t).replace('-', '−'));
  });
  compYTicks.forEach(t => {
    mk(g, 'line', {x1:cfg.left - 1.5, x2:cfg.left, y1:y(t), y2:y(t), stroke:'#999', 'stroke-width':.5}, 'y-tick');
    mk(g, 'text', {x:cfg.left - 2.5, y:y(t) + 1.8, 'font-size':cfg.tickFs, fill:'#555', 'text-anchor':'end'}, 'y-tick-label', String(t).replace('-', '−'));
  });
  mk(g, 'text', {x:cfg.xt[0], y:cfg.xt[1], 'font-size':cfg.titleFs, fill:'#333', 'text-anchor':'middle'}, 'x-axis-title', 'Component 1');
  mk(g, 'text', {transform:`translate(${cfg.yt[0]},${cfg.yt[1]}) rotate(-90)`, 'font-size':cfg.titleFs, fill:'#333', 'text-anchor':'middle'}, 'y-axis-title', 'Component 2');
  [backboneA, backboneB, backboneC].forEach(b => mk(g, 'polyline', {points:pts(b, x, y), fill:'none', stroke:'#111', 'stroke-width':cfg.lineW}, 'trajectory-backbone'));
  const cloud = group(g, 'trajectory-cells', {filter:'url(#roughFine)'});
  stateSeries.forEach((series, s) => {
    const sg = group(cloud, 'state-' + (s + 1) + '-cells');
    for (let i = 0; i < series.length - 1; i++) {
      const a = series[i], b = series[i + 1];
      const w = ((a[2] + b[2]) / 2) * 2 * cfg.unit + ptR * 1.4;
      mk(sg, 'line', {x1:x(a[0]), y1:y(a[1]), x2:x(b[0]), y2:y(b[1]), stroke:cfg.color(s, (a[3] + b[3]) / 2), 'stroke-width':w, 'stroke-linecap':'round'}, 'state-segment');
    }
  });
  const out = group(g, 'outlier-cells');
  outliers.forEach(o => mk(out, 'circle', {cx:x(o[1]), cy:y(o[2]), r:ptR, fill:cfg.color(o[0] - 1, o[3])}, 'outlier-cell'));
  branchNodes.forEach(n => {
    mk(g, 'circle', {cx:x(n[1]), cy:y(n[2]), r:cfg.nodeR, fill:'#111'}, 'branch-node-' + n[0]);
    mk(g, 'text', {x:x(n[1]), y:y(n[2]) + cfg.nodeR * .55, 'font-size':cfg.nodeR * 1.5, fill:'#fff', 'font-weight':'bold', 'text-anchor':'middle'}, 'branch-node-label-' + n[0], n[0]);
  });
}
drawTrajectory('panelF', {left:541.7, right:764.3, top:303.3, bottom:500, x:v => 650 + v * 11.83, y:v => 433.3 - v * 12.67, unit:12.2, ptR:1.1, nodeR:2.8, lineW:.9, tickFs:4.5, titleFs:5.6, xt:[652.7,513.5], yt:[531.5,405], color:(s, t) => pseudoColor(t)});
drawTrajectory('panelG', {left:789.3, right:1012.3, top:299.3, bottom:499.3, x:v => 897.3 + v * 11.85, y:v => 430.7 - v * 13.15, unit:12.2, ptR:1.1, nodeR:2.8, lineW:.9, tickFs:4.5, titleFs:5.6, xt:[901,513.5], yt:[779,400], color:s => stateCellType[s] === 'iCAF' ? '#00bfc4' : '#f8766d'});
drawTrajectory('panelH', {left:118.7, right:425, top:581.7, bottom:842.7, x:v => 267.3 + v * 16.23, y:v => 752.7 - v * 16.93, unit:16.5, ptR:1.3, nodeR:3.7, lineW:1, tickFs:5.5, titleFs:7.3, xt:[271.7,858], yt:[104.5,712.7], color:s => stateColors[s]});

/* state legend */
(function () {
  const g = group(document.getElementById('panelH'), 'state-legend');
  const slot = [158, 179, 200, 222.3, 242.7, 264, 282.3];
  stateColors.forEach((c, i) => {
    mk(g, 'circle', {cx:slot[i], cy:575.3, r:3.3, fill:c}, 'state-legend-swatch-' + (i + 1));
    mk(g, 'text', {x:slot[i] + 5, y:578.5, 'font-size':10, fill:'#222'}, 'state-legend-label-' + (i + 1), String(i + 1));
  });
})();

/* pseudotime ticks */
pseudoTicks.forEach(t => mk(document.getElementById('panelF'), 'text', {x:647.7 + t * 1.85, y:297, 'font-size':4.4, fill:'#444', 'text-anchor':'middle'}, 'pseudotime-tick-label', String(t)));

/* ---------- Heatmap ---------- */
const heatStops = [[-3,[0,0,200]],[-2,[0,80,255]],[-1.5,[0,160,255]],[-1,[0,240,255]],[-.5,[48,255,192]],[0,[120,255,128]],[.5,[192,255,64]],[1,[255,255,0]],[1.5,[255,192,0]],[2,[255,96,0]],[2.5,[240,16,0]],[3,[176,0,0]]];
function heatColor(v) {
  const c = Math.max(-3, Math.min(3, v));
  for (let i = 0; i < heatStops.length - 1; i++) {
    const a = heatStops[i], b = heatStops[i + 1];
    if (c >= a[0] && c <= b[0]) {
      const f = (c - a[0]) / (b[0] - a[0]);
      return 'rgb(' + a[1].map((q, k) => Math.round(q + (b[1][k] - q) * f)).join(',') + ')';
    }
  }
  return '#000';
}
(function () {
  const g = document.getElementById('panelI');
  const x0 = 565.7, x1 = 835, rowH = 16.93, gap = 3.1, y0 = 534.3;
  const cells = group(g, 'heatmap-cells', {'shape-rendering':'crispEdges'});
  let r = 0, y = y0;
  rowGroupSizes.forEach((n, gi) => {
    const gh = n * rowH;
    mk(g, 'rect', {x:559.3, y:y, width:4.2, height:gh, fill:clusterColors[groupCluster[gi]]}, 'cluster-annotation-' + groupCluster[gi]);
    for (let k = 0; k < n; k++, r++) {
      const row = heatRows[r], cw = (x1 - x0) / row.length, ry = y + k * rowH;
      row.forEach((v, c) => mk(cells, 'rect', {x:x0 + c * cw, y:ry, width:cw + .3, height:rowH + .2, fill:heatColor(v)}, 'cell-' + geneNames[r].toLowerCase()));
      mk(g, 'text', {x:837, y:ry + rowH / 2 + 1.9, 'font-size':5.2, fill:'#333'}, 'gene-label-' + geneNames[r].toLowerCase(), geneNames[r]);
    }
    y += gh + gap;
  });
  const dg = group(g, 'row-dendrogram');
  dendroLines.forEach(l => mk(dg, 'line', {x1:l[0] / 3 + 530, y1:l[1] / 3 + 520, x2:l[2] / 3 + 530, y2:l[3] / 3 + 520, stroke:'#555', 'stroke-width':.8}, 'dendrogram-branch'));
  mk(g, 'text', {transform:'translate(559.5,876) rotate(90)', 'font-size':5.4, 'font-weight':'bold', fill:'#222'}, 'cluster-annotation-title', 'Cluster');
  mk(g, 'rect', {x:864.3, y:534.3, width:7, height:108.7, fill:'url(#heatGrad)'}, 'heatmap-colorbar');
  colorTicks.forEach(t => mk(g, 'text', {x:873, y:588.7 - t * 17.55 + 1.8, 'font-size':4.8, fill:'#333'}, 'colorbar-tick-label', String(t).replace('-', '−')));
  mk(g, 'text', {x:879.3, y:538, 'font-size':5, 'font-weight':'bold', fill:'#222'}, 'cluster-legend-title', 'Cluster');
  ['1','2','3','4','5','6','7'].forEach((c, i) => {
    mk(g, 'rect', {x:879.3, y:539.3 + i * 6.3, width:6.7, height:6.3, fill:clusterColors[c]}, 'cluster-legend-swatch-' + c);
    mk(g, 'text', {x:887.5, y:544.2 + i * 6.3, 'font-size':4.6, fill:'#333'}, 'cluster-legend-label-' + c, c);
  });
})();
</script>
</svg>
</body>
</html>
